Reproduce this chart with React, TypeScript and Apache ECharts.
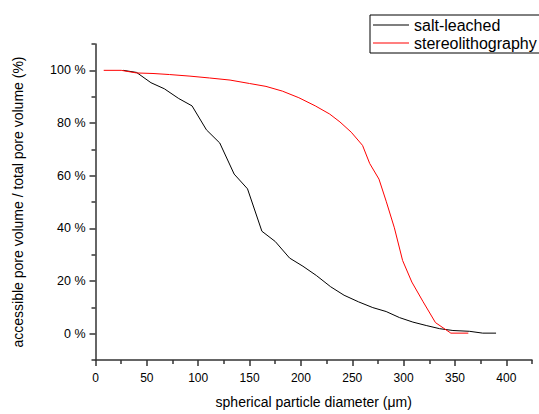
import React, { useEffect, useRef } from "react";
import * as echarts from "echarts";

const saltX = [27, 40, 54, 67, 81, 94, 108, 121, 135, 148, 162, 175, 189, 202, 215, 229, 242, 256, 270, 283, 296, 309, 322, 335, 348, 364, 377, 390];
const saltY = [100, 99.2, 95.3, 93, 89.3, 86.5, 77.4, 72.4, 60.6, 55, 38.9, 35, 28.7, 25.6, 22.1, 17.8, 14.6, 12.1, 9.9, 8.4, 6.1, 4.4, 3.1, 1.9, 1.2, 0.9, 0.2, 0.2];

const stereoX = [8, 25, 40, 56, 72, 92, 111, 131, 150, 166, 182, 198, 214, 228, 238, 249, 260, 267, 276, 283, 291, 299, 308, 319, 331, 346, 363];
const stereoY = [100, 100, 99, 98.8, 98.4, 97.8, 97.1, 96.3, 95, 93.9, 92.1, 89.6, 86.5, 83.4, 80.4, 76.5, 71.5, 64.6, 58.7, 50.3, 40.2, 27.8, 19.6, 12.1, 4.2, 0.2, 0.2];

const xMajorTicks = [0, 50, 100, 150, 200, 250, 300, 350, 400];
const xMinorTicks = [25, 75, 125, 175, 225, 275, 325, 375, 425];
const yMajorTicks = [0, 20, 40, 60, 80, 100];
const yMinorTicks = [-10, 10, 30, 50, 70, 90, 110];

const seriesNames = ["salt-leached", "stereolithography"];
const xName = "spherical particle diameter (\u03bcm)";
const yName = "accessible pore volume / total pore volume (%)";

const FONT = "Liberation Sans, Arial, sans-serif";

export default function App() {
  const ref = useRef<HTMLDivElement>(null);
  useEffect(() => {
    if (!ref.current) return;
    const chart = echarts.init(ref.current, null, { renderer: "svg" });
    const axisLine = { show: true, onZero: false, lineStyle: { color: "#333", width: 1.5 } };
    const tickStyle = { color: "#333", width: 1.5 };
    chart.setOption({
      animation: false,
      backgroundColor: "#fff",
      textStyle: { fontFamily: FONT },
      grid: { left: 95.5, right: 7, top: 44, bottom: 50, containLabel: false },
      legend: {
        orient: "vertical",
        left: 370,
        top: 15,
        padding: [2, 3, 2, 3],
        itemGap: 2,
        itemWidth: 36,
        itemHeight: 1,
        icon: "rect",
        borderColor: "#000",
        borderWidth: 1,
        textStyle: { fontSize: 16, color: "#000", fontFamily: FONT },
        data: seriesNames,
      },
      xAxis: [
        {
          type: "value",
          min: 0,
          max: 425,
          interval: 50,
          splitLine: { show: false },
          axisLine,
          axisTick: { show: true, inside: false, length: 6, customValues: xMajorTicks, lineStyle: tickStyle },
          axisLabel: { customValues: xMajorTicks, fontSize: 12, color: "#000", margin: 12, fontFamily: FONT },
          name: xName,
          nameLocation: "middle",
          nameGap: 35,
          nameTextStyle: { fontSize: 14, color: "#000", fontFamily: FONT },
        },
        {
          type: "value",
          position: "bottom",
          min: 0,
          max: 425,
          interval: 25,
          splitLine: { show: false },
          axisLine: { show: false, onZero: false },
          axisTick: { show: true, inside: false, length: 4, customValues: xMinorTicks, lineStyle: tickStyle },
          axisLabel: { show: false },
        },
      ],
      yAxis: [
        {
          type: "value",
          min: -10,
          max: 110,
          interval: 10,
          splitLine: { show: false },
          axisLine,
          axisTick: { show: true, inside: false, length: 6, customValues: yMajorTicks, lineStyle: tickStyle },
          axisLabel: {
            customValues: yMajorTicks,
            fontSize: 12.5,
            color: "#000",
            margin: 10,
            fontFamily: FONT,
            formatter: (v: number) => `${v} %`,
          },
          name: yName,
          nameLocation: "middle",
          nameGap: 71,
          nameTextStyle: { fontSize: 14, color: "#000", fontFamily: FONT },
        },
        {
          type: "value",
          position: "left",
          min: -10,
          max: 110,
          interval: 10,
          splitLine: { show: false },
          axisLine: { show: false, onZero: false },
          axisTick: { show: true, inside: false, length: 4, customValues: yMinorTicks, lineStyle: tickStyle },
          axisLabel: { show: false },
        },
      ],
      series: [
        {
          name: seriesNames[0],
          type: "line",
          data: saltX.map((x, i) => [x, saltY[i]]),
          showSymbol: false,
          symbol: "none",
          lineStyle: { color: "#000", width: 1 },
          itemStyle: { color: "#000" },
        },
        {
          name: seriesNames[1],
          type: "line",
          data: stereoX.map((x, i) => [x, stereoY[i]]),
          showSymbol: false,
          symbol: "none",
          lineStyle: { color: "#ff0000", width: 1 },
          itemStyle: { color: "#ff0000" },
        },
      ],
    });
    return () => chart.dispose();
  }, []);
  return <div ref={ref} style={{ position: "fixed", left: 0, top: 0, width: 539, height: 414 }} />;
}
